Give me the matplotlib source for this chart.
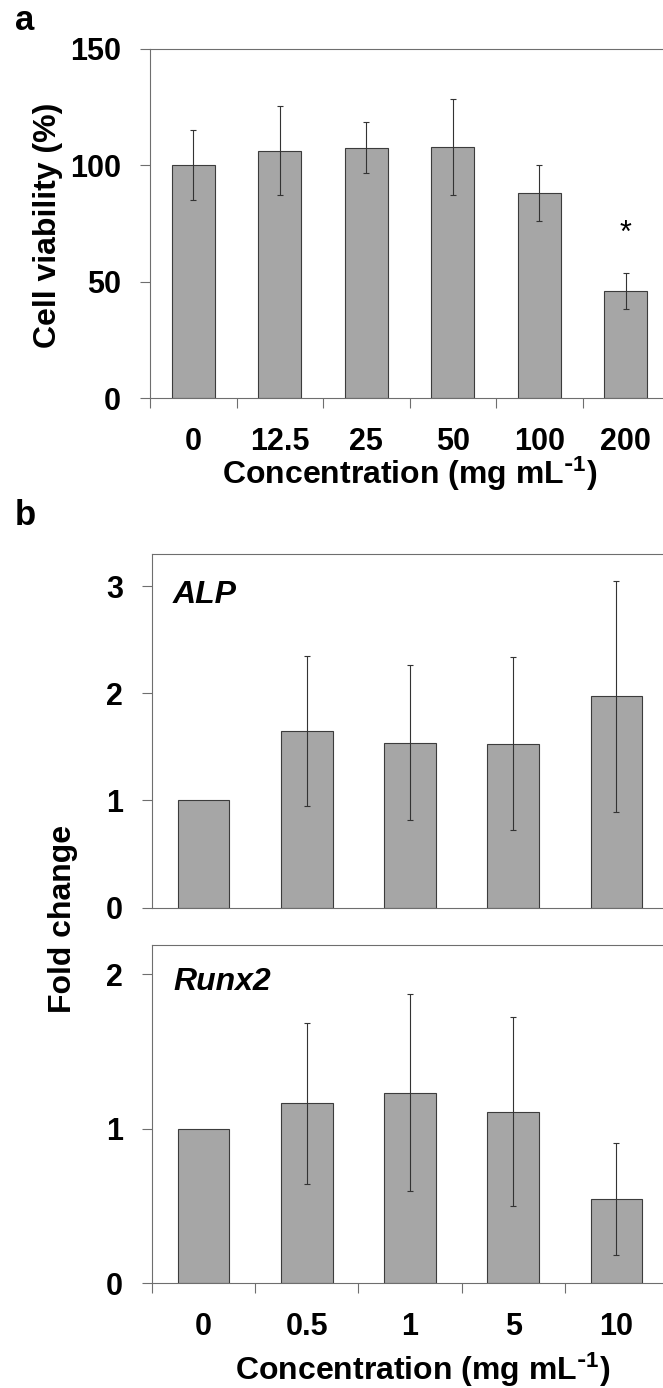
import matplotlib
matplotlib.use('Agg')
import matplotlib.pyplot as plt
import numpy as np

# panel a: cell viability
conc_a = ['0', '12.5', '25', '50', '100', '200']
viability = [100.0, 106.3, 107.6, 107.8, 88.2, 46.0]
viability_err = [15.0, 19.2, 11.1, 20.7, 12.0, 7.6]

# panel b: gene expression
conc_b = ['0', '0.5', '1', '5', '10']
alp = [1.0, 1.65, 1.54, 1.53, 1.97]
alp_err = [0.0, 0.70, 0.72, 0.81, 1.08]
runx2 = [1.0, 1.166, 1.235, 1.112, 0.545]
runx2_err = [0.0, 0.52, 0.64, 0.61, 0.364]

plt.rcParams['font.family'] = ['Liberation Sans', 'DejaVu Sans']
plt.rcParams['font.weight'] = 'bold'
plt.rcParams['mathtext.default'] = 'regular'

W, H = 663, 1388
fig = plt.figure(figsize=(W / 100, H / 100), dpi=100)

bar_col = '#a6a6a6'
edge_col = '#3c3c3c'
spine_col = '#6e6e6e'


def px_axes(left, right, top, bottom):
    return fig.add_axes([left / W, 1 - bottom / H, (right - left) / W, (bottom - top) / H])


def bar_panel(ax, labels, vals, errs, ylim, yticks, xticks=True):
    x = np.arange(len(labels))
    ax.bar(x, vals, width=0.5, color=bar_col, edgecolor=edge_col, linewidth=0.8, zorder=2)
    e = np.array(errs)
    m = e > 0
    ax.errorbar(x[m], np.array(vals)[m], yerr=e[m], fmt='none', ecolor='#333333',
                elinewidth=0.8, capsize=2, capthick=0.8, zorder=3)
    ax.set_xlim(-0.5, len(labels) - 0.5)
    ax.set_ylim(*ylim)
    ax.set_yticks(yticks)
    ax.set_yticklabels([str(t) for t in yticks])
    ax.tick_params(axis='y', direction='out', length=7.5, width=0.8, color=spine_col,
                   pad=13.5, labelsize=22)
    if xticks:
        ax.set_xticks(np.arange(len(labels) + 1) - 0.5)
        ax.set_xticklabels([])
        ax.set_xticks(x, minor=True)
        ax.set_xticklabels(labels, minor=True)
        ax.tick_params(axis='x', which='major', direction='out', length=7.5, width=0.8,
                       color=spine_col)
        ax.tick_params(axis='x', which='minor', length=0, pad=21, labelsize=22)
    else:
        ax.set_xticks([])
    for s in ['left', 'bottom', 'top']:
        ax.spines[s].set_color(spine_col)
        ax.spines[s].set_linewidth(0.8)
    ax.spines['right'].set_visible(False)


ax_a = px_axes(150, 669, 49, 398)
bar_panel(ax_a, conc_a, viability, viability_err, (0, 150), [0, 50, 100, 150])
ax_a.text(5, viability[5] + viability_err[5] + 17, '*', ha='center', va='center',
          fontsize=22, fontweight='normal')

ax_b1 = px_axes(152, 668, 554, 907.5)
bar_panel(ax_b1, conc_b, alp, alp_err, (0, 3.3), [0, 1, 2, 3], xticks=False)

ax_b2 = px_axes(152, 668, 945, 1283.3)
bar_panel(ax_b2, conc_b, runx2, runx2_err, (0, 2.19), [0, 1, 2])

# text
xlab = r'Concentration (mg mL$^{\text{-}1}$)'
fig.text(15 / W, 1 - 30 / H, 'a', fontsize=25, fontweight='bold', va='baseline')
fig.text(15 / W, 1 - 525 / H, 'b', fontsize=25, fontweight='bold', va='baseline')
fig.text(48 / W, 1 - 225 / H, 'Cell viability (%)', rotation=90, ha='center', va='center',
         fontsize=23)
fig.text(63 / W, 1 - 919 / H, 'Fold change', rotation=90, ha='center', va='center',
         fontsize=23)
fig.text(410 / W, 1 - 484 / H, xlab, ha='center', va='baseline', fontsize=23)
fig.text(423 / W, 1 - 1380 / H, xlab, ha='center', va='baseline', fontsize=23)
fig.text(173 / W, 1 - 603 / H, 'ALP', style='italic', fontsize=23, va='baseline')
fig.text(173 / W, 1 - 990 / H, 'Runx2', style='italic', fontsize=23, va='baseline')

fig.savefig('out.png', dpi=100)
